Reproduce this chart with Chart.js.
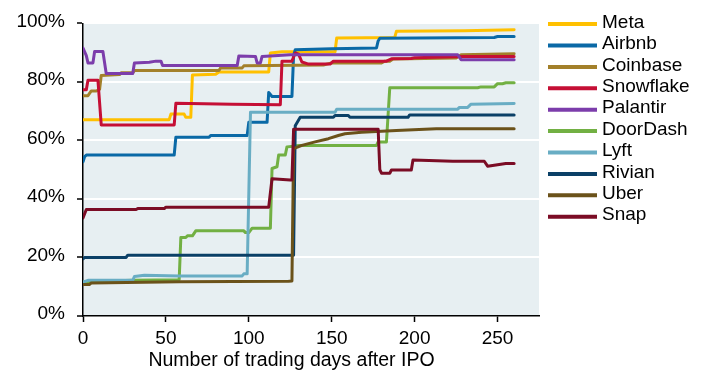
<!DOCTYPE html>
<html>
<head>
<meta charset="utf-8">
<script src="https://cdn.jsdelivr.net/npm/chart.js@4.4.1/dist/chart.umd.min.js"></script>
<style>
  html, body { margin: 0; padding: 0; background: #ffffff; }
  #wrap { width: 706px; height: 373px; }
</style>
</head>
<body>
<div id="wrap"><canvas id="chart" width="706" height="373"></canvas></div>
<script>
// Share of IPO-day holders' value (%) against trading days since listing

const seriesNames = ['Meta', 'Airbnb', 'Coinbase', 'Snowflake', 'Palantir',
                     'DoorDash', 'Lyft', 'Rivian', 'Uber', 'Snap'];
const seriesColors = ['#ffc000', '#0a69a6', '#a3802a', '#c50f35', '#7c3dab',
                      '#72b043', '#69adc4', '#0b4067', '#6b521a', '#7b0c25'];

const xTickValues = [0, 50, 100, 150, 200, 250];
const yTickValues = [0, 20, 40, 60, 80, 100];

const metaDays = [0, 52, 53, 61, 62, 65, 66, 80, 82, 112, 113, 120, 152, 153, 188, 189, 230, 260];
const metaVals = [67.1, 67.1, 69, 69, 67.9, 67.9, 82.4, 82.6, 83.4, 83.4, 89.9, 90.3, 90.3, 95.0, 95.2, 97.3, 97.5, 97.8];

const airbnbDays = [0, 1, 2, 55, 56, 76, 77, 99, 100, 111, 112, 114, 126, 127, 128, 150, 177, 178, 179, 248, 250, 260];
const airbnbVals = [52.7, 54.5, 55, 55, 61.1, 61.1, 61.7, 61.7, 66.2, 66.2, 76.4, 75.0, 75.0, 89, 91.0, 91.3, 91.6, 94, 94.9, 95.2, 95.5, 95.5];

const coinbaseDays = [0, 3, 5, 8, 10, 11, 22, 23, 30, 31, 82, 83, 96, 97, 145, 150, 180, 182, 185, 187, 225, 228, 260];
const coinbaseVals = [75.3, 75.3, 76.9, 76.9, 77.5, 82.2, 82.5, 83.1, 83.1, 83.9, 83.9, 84.8, 84.8, 85.5, 85.8, 86.5, 86.5, 87.1, 87.1, 87.8, 88.2, 89.3, 89.6];

const snowflakeDays = [0, 2, 3, 9, 11, 55, 56, 90, 119, 120, 126, 128, 130, 132, 136, 149, 151, 183, 186, 198, 200, 230, 260];
const snowflakeVals = [77.3, 77.3, 80.6, 80.6, 65.3, 65.3, 72.7, 72.4, 72.2, 87.1, 87.1, 89.9, 89.5, 86.8, 86.1, 86.1, 87.1, 87.1, 87.9, 88.0, 88.3, 88.7, 88.7];

const palantirDays = [0, 2, 3, 6, 7, 12, 14, 30, 31, 40, 44, 47, 48, 93, 94, 104, 105, 107, 108, 125, 200, 226, 228, 260];
const palantirVals = [91.6, 89, 86.5, 86.5, 90.4, 90.4, 82.9, 82.9, 86.5, 86.7, 87.1, 87.1, 85.6, 85.6, 88.9, 88.7, 86.5, 86.5, 88.7, 89.3, 89.3, 89.3, 87.6, 87.6];

const doordashDays = [0, 30, 58, 59, 62, 63, 66, 68, 97, 98, 100, 102, 113, 114, 117, 118, 122, 123, 127, 130, 177, 178, 183, 185, 238, 240, 248, 250, 253, 255, 260];
const doordashVals = [11.6, 12.2, 12.4, 26.8, 26.8, 27.4, 27.4, 29.1, 29.1, 28.5, 28.5, 30, 30, 50.4, 51, 55, 55, 57.8, 58, 58.3, 58.3, 59.5, 59.5, 78, 78, 78.3, 78.3, 79.4, 79.4, 79.7, 79.7];

const lyftDays = [0, 3, 30, 31, 37, 58, 96, 97, 99, 101, 152, 153, 226, 227, 232, 234, 260];
const lyftVals = [11.6, 12.2, 12.2, 13.5, 13.9, 13.7, 13.7, 14.4, 14.4, 69.6, 69.6, 70.7, 70.7, 71.3, 71.3, 72.4, 72.6];

const rivianDays = [0, 1, 26, 27, 127, 128, 131, 151, 152, 160, 161, 196, 197, 260];
const rivianVals = [19.5, 20.0, 20.0, 20.8, 20.8, 65, 67.9, 67.9, 68.5, 68.5, 67.9, 67.9, 68.7, 68.7];

const uberDays = [0, 4, 5, 58, 124, 126, 127, 132, 140, 148, 154, 158, 168, 189, 213, 260];
const uberVals = [10.8, 10.8, 11.3, 11.7, 11.9, 12.0, 57.2, 58.3, 59.5, 60.6, 61.7, 62.3, 62.8, 63.4, 64.0, 64.0];

const snapDays = [0, 2, 32, 33, 49, 50, 112, 114, 125, 126, 127, 178, 179, 180, 185, 186, 198, 199, 223, 242, 244, 251, 255, 260];
const snapVals = [33.5, 36.4, 36.4, 36.7, 36.7, 37.2, 37.2, 46.9, 46.5, 46.5, 63.8, 63.8, 50, 48.8, 48.8, 49.9, 49.9, 53.3, 52.9, 52.9, 51.2, 51.8, 52.1, 52.1];

const seriesDays = [metaDays, airbnbDays, coinbaseDays, snowflakeDays, palantirDays,
                    doordashDays, lyftDays, rivianDays, uberDays, snapDays];
const seriesVals = [metaVals, airbnbVals, coinbaseVals, snowflakeVals, palantirVals,
                    doordashVals, lyftVals, rivianVals, uberVals, snapVals];

const xTitle = 'Number of trading days after IPO';
const FONT = 'Liberation Sans, Arial, sans-serif';

const datasets = seriesNames.map((name, i) => ({
  label: name,
  data: seriesDays[i].map((d, k) => ({ x: d, y: seriesVals[i][k] })),
  borderColor: seriesColors[i],
  backgroundColor: seriesColors[i],
  borderWidth: 3,
  pointRadius: 0,
  tension: 0,
  fill: false,
  borderJoinStyle: 'round',
  borderCapStyle: 'round',
  // later series sit on top of earlier ones
  order: seriesNames.length - i
}));

// light panel behind the plot
const panelPlugin = {
  id: 'panel',
  beforeDraw(chart) {
    const { ctx, chartArea: a } = chart;
    ctx.save();
    ctx.fillStyle = '#e7eff2';
    ctx.fillRect(a.left, a.top, a.right - a.left, a.bottom - a.top);
    ctx.restore();
  }
};

// series key on the right, one row per series
const keyPlugin = {
  id: 'sideKey',
  afterDraw(chart) {
    const { ctx, chartArea: a } = chart;
    const x0 = a.right + 9, lineLen = 49, gap = 5, top = a.top + 0.7, step = 21.4;
    ctx.save();
    ctx.font = '19px ' + FONT;
    ctx.textBaseline = 'middle';
    ctx.textAlign = 'left';
    chart.data.datasets.forEach((ds, i) => {
      const y = top + i * step;
      ctx.strokeStyle = ds.borderColor;
      ctx.lineWidth = 4;
      ctx.lineCap = 'butt';
      ctx.beginPath();
      ctx.moveTo(x0, y);
      ctx.lineTo(x0 + lineLen, y);
      ctx.stroke();
      ctx.fillStyle = '#000';
      ctx.fillText(ds.label, x0 + lineLen + gap, y - 1.5);
    });
    ctx.restore();
  }
};

// x-axis caption under the tick labels
const captionPlugin = {
  id: 'xCaption',
  afterDraw(chart) {
    const { ctx, chartArea: a } = chart;
    ctx.save();
    ctx.font = '19.5px ' + FONT;
    ctx.fillStyle = '#000';
    ctx.textAlign = 'center';
    ctx.textBaseline = 'alphabetic';
    ctx.fillText(xTitle, (a.left + a.right) / 2 - 19.5, a.bottom + 50);
    ctx.restore();
  }
};

new Chart(document.getElementById('chart'), {
  type: 'line',
  data: { datasets },
  options: {
    responsive: false,
    animation: false,
    devicePixelRatio: 1,
    layout: { padding: { top: 20, right: 167, bottom: 0, left: 0 } },
    plugins: {
      legend: { display: false },
      tooltip: { enabled: false }
    },
    scales: {
      x: {
        type: 'linear',
        min: 0,
        max: 275,
        afterBuildTicks: s => { s.ticks = xTickValues.map(v => ({ value: v })); },
        afterFit: s => { s.height = 57; },
        ticks: {
          font: { family: FONT, size: 19 },
          color: '#000',
          padding: 5,
          maxRotation: 0
        },
        grid: {
          drawOnChartArea: false,
          drawTicks: true,
          tickLength: 6,
          tickColor: '#000',
          tickWidth: 1.5
        },
        border: { display: true, color: '#000', width: 1.5 }
      },
      y: {
        type: 'linear',
        min: 0,
        max: 100,
        afterBuildTicks: s => { s.ticks = yTickValues.map(v => ({ value: v })); },
        afterFit: s => { s.width = 83; },
        ticks: {
          font: { family: FONT, size: 19 },
          color: '#000',
          padding: 12,
          labelOffset: -2,
          callback: v => v + '%'
        },
        grid: {
          color: c => (c.tick && c.tick.value > 0 ? '#ffffff' : 'rgba(0,0,0,0)'),
          lineWidth: 2,
          drawTicks: true,
          tickLength: 6,
          tickColor: '#000',
          tickWidth: 1.5
        },
        border: { display: true, color: '#000', width: 1.5 }
      }
    }
  },
  plugins: [panelPlugin, keyPlugin, captionPlugin]
});
</script>
</body>
</html>
